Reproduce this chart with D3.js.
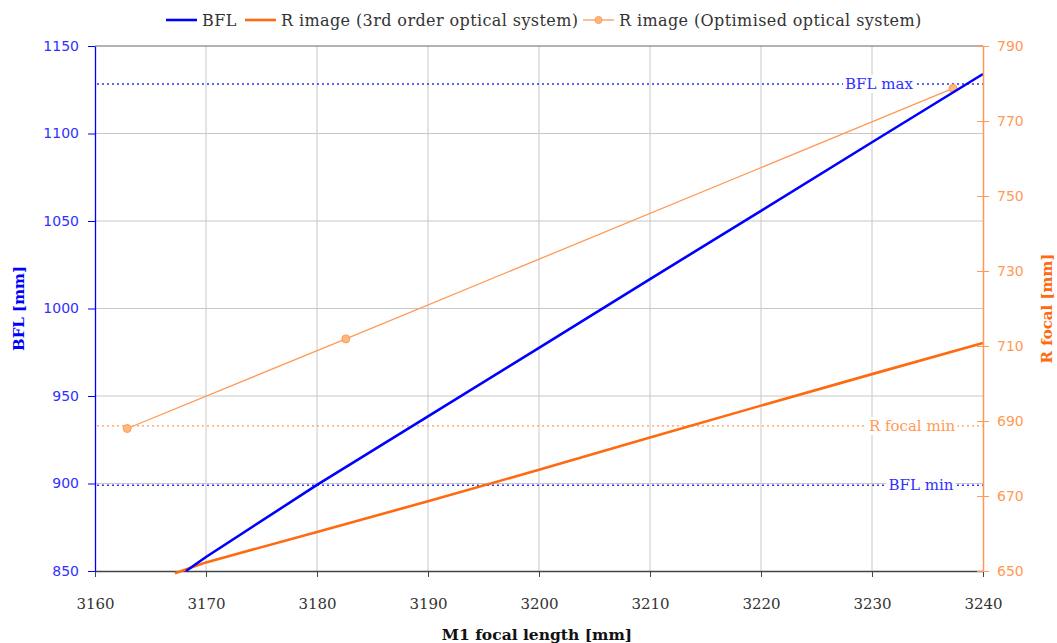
<!DOCTYPE html>
<html>
<head>
<meta charset="utf-8">
<script src="https://cdn.jsdelivr.net/npm/d3@7"></script>
<style>
  body { margin: 0; background: #fff; }
  svg { display: block; }
</style>
</head>
<body>
<div id="chart"></div>
<script>
var width = 1057;
var height = 643;
var margin = { top: 46, right: 74, bottom: 72, left: 95 };

// data
const bflSeries = [
  [3168.2, 850], [3170, 858], [3180, 899.2], [3190, 938.4], [3200, 977.5],
  [3210, 1016.8], [3220, 1055.8], [3230, 1095], [3240, 1134]
];
const rThirdOrder = [
  [3167.2, 649.4], [3170, 652.3], [3180, 660.4], [3190, 668.6], [3200, 677],
  [3210, 685.6], [3220, 694.1], [3230, 702.5], [3240, 710.8]
];
const rOptimised = [
  [3162.9, 688.0], [3182.6, 711.9], [3237.3, 778.7]
];
const xTicks = [3160, 3170, 3180, 3190, 3200, 3210, 3220, 3230, 3240];
const bflTicks = [850, 900, 950, 1000, 1050, 1100, 1150];
const rTicks = [650, 670, 690, 710, 730, 750, 770, 790];
const bflLimits = [{ label: "BFL max", value: 1128.3, lx: 879 }, { label: "BFL min", value: 899.0, lx: 921 }];
const rLimits = [{ label: "R focal min", value: 688.7, lx: 912 }];
const legendItems = ["BFL", "R image (3rd order optical system)", "R image (Optimised optical system)"];

const serif = "'DejaVu Serif', serif";
const sans = "'DejaVu Sans', sans-serif";
const blue = "#0000ff", blueText = "#3030ff";
const orange = "#ff6a10", orangeLight = "#ff9a55";

const svg = d3.select("#chart").append("svg")
  .attr("width", width).attr("height", height);

const x = d3.scaleLinear().domain([3160, 3240]).range([margin.left, width - margin.right]);
const yL = d3.scaleLinear().domain([850, 1150]).range([height - margin.bottom, margin.top]);
const yR = d3.scaleLinear().domain([650, 790]).range([height - margin.bottom, margin.top]);

// grid
svg.append("g").selectAll("line").data(xTicks.slice(1, -1)).join("line")
  .attr("x1", d => x(d)).attr("x2", d => x(d))
  .attr("y1", margin.top).attr("y2", height - margin.bottom)
  .attr("stroke", "#c8c8c8").attr("stroke-width", 1);
svg.append("g").selectAll("line").data(bflTicks.slice(1, -1)).join("line")
  .attr("x1", margin.left).attr("x2", width - margin.right)
  .attr("y1", d => yL(d)).attr("y2", d => yL(d))
  .attr("stroke", "#c8c8c8").attr("stroke-width", 1);

// top frame
svg.append("line")
  .attr("x1", margin.left).attr("x2", width - margin.right)
  .attr("y1", margin.top).attr("y2", margin.top)
  .attr("stroke", "#666").attr("stroke-width", 1.2);

// bottom axis
const xAxis = svg.append("g")
  .attr("transform", `translate(0,${height - margin.bottom})`)
  .call(d3.axisBottom(x).tickValues(xTicks).tickSize(6).tickSizeOuter(0).tickPadding(21).tickFormat(d3.format("d")));
xAxis.select(".domain").attr("stroke", "#444").attr("stroke-width", 1.4);
xAxis.selectAll(".tick line").attr("stroke", "#444");
xAxis.selectAll("text").attr("font-family", serif).attr("font-size", 15).attr("fill", "#333");

// limit lines
function limitLine(y, value, color, label, lx) {
  const yy = y(value);
  svg.append("line")
    .attr("x1", margin.left + 2).attr("x2", width - margin.right)
    .attr("y1", yy).attr("y2", yy)
    .attr("stroke", color).attr("stroke-width", 1.4)
    .attr("stroke-dasharray", "2,3");
  const box = svg.append("rect").attr("fill", "#fff");
  const t = svg.append("text")
    .attr("x", lx).attr("y", yy + 5)
    .attr("text-anchor", "middle")
    .attr("font-family", serif).attr("font-size", 15)
    .attr("fill", color).text(label);
  const bb = t.node().getBBox();
  box.attr("x", bb.x - 2).attr("y", bb.y).attr("width", bb.width + 4).attr("height", bb.height);
}
bflLimits.forEach(d => limitLine(yL, d.value, blueText, d.label, d.lx));
rLimits.forEach(d => limitLine(yR, d.value, orangeLight, d.label, d.lx));

// series
const lineL = d3.line().x(d => x(d[0])).y(d => yL(d[1]));
const lineR = d3.line().x(d => x(d[0])).y(d => yR(d[1]));

svg.append("path").datum(rOptimised)
  .attr("d", lineR).attr("fill", "none")
  .attr("stroke", orangeLight).attr("stroke-width", 1.3);
svg.append("g").selectAll("circle").data(rOptimised).join("circle")
  .attr("cx", d => x(d[0])).attr("cy", d => yR(d[1])).attr("r", 4)
  .attr("fill", "#ffb880").attr("stroke", orangeLight).attr("stroke-width", 1);

svg.append("path").datum(rThirdOrder)
  .attr("d", lineR).attr("fill", "none")
  .attr("stroke", orange).attr("stroke-width", 2.6);

svg.append("path").datum(bflSeries)
  .attr("d", lineL).attr("fill", "none")
  .attr("stroke", blue).attr("stroke-width", 2.6);

// left axis
const leftAxis = svg.append("g")
  .attr("transform", `translate(${margin.left},0)`)
  .call(d3.axisLeft(yL).tickValues(bflTicks).tickSize(7).tickSizeOuter(0).tickPadding(9).tickFormat(d3.format("d")));
leftAxis.select(".domain").attr("stroke", blue).attr("stroke-width", 1.3);
leftAxis.selectAll(".tick line").attr("stroke", blue);
leftAxis.selectAll("text").attr("font-family", sans).attr("font-size", 14).attr("fill", blueText);

// right axis
const rightAxis = svg.append("g")
  .attr("transform", `translate(${width - margin.right},0)`)
  .call(d3.axisRight(yR).tickValues(rTicks).tickSize(6).tickSizeOuter(0).tickPadding(8).tickFormat(d3.format("d")));
rightAxis.select(".domain").attr("stroke", orangeLight).attr("stroke-width", 1.5);
rightAxis.selectAll(".tick line").attr("stroke", orangeLight).attr("x1", -6);
rightAxis.selectAll("text").attr("font-family", sans).attr("font-size", 14).attr("fill", orangeLight);

// axis titles
svg.append("text")
  .attr("transform", `translate(24,${(margin.top + height - margin.bottom) / 2}) rotate(-90)`)
  .attr("text-anchor", "middle")
  .attr("font-family", serif).attr("font-weight", "bold").attr("font-size", 15)
  .attr("fill", blue).text("BFL [mm]");
svg.append("text")
  .attr("transform", `translate(1052,${(margin.top + height - margin.bottom) / 2}) rotate(-90)`)
  .attr("text-anchor", "middle")
  .attr("font-family", serif).attr("font-weight", "bold").attr("font-size", 15)
  .attr("fill", orange).text("R focal [mm]");
svg.append("text")
  .attr("x", 537).attr("y", 640)
  .attr("text-anchor", "middle")
  .attr("font-family", serif).attr("font-weight", "bold").attr("font-size", 15.5)
  .attr("fill", "#111").text("M1 focal length [mm]");

// legend
const legendX = [166, 245, 583];
const legendStyles = [
  { stroke: blue, w: 2.6, marker: false },
  { stroke: orange, w: 2.6, marker: false },
  { stroke: orangeLight, w: 1.3, marker: true }
];
const legend = svg.append("g").selectAll("g").data(legendItems).join("g")
  .attr("transform", (d, i) => `translate(${legendX[i]},20)`);
legend.append("line")
  .attr("x1", 0).attr("x2", 31).attr("y1", 0).attr("y2", 0)
  .attr("stroke", (d, i) => legendStyles[i].stroke)
  .attr("stroke-width", (d, i) => legendStyles[i].w);
legend.filter((d, i) => legendStyles[i].marker).append("circle")
  .attr("cx", 15.5).attr("cy", 0).attr("r", 3.5)
  .attr("fill", "#ffb880").attr("stroke", orangeLight);
legend.append("text")
  .attr("x", 36).attr("y", 5.5)
  .attr("font-family", serif).attr("font-size", 16).attr("letter-spacing", 0.4).attr("fill", "#333")
  .text(d => d);
</script>
</body>
</html>
